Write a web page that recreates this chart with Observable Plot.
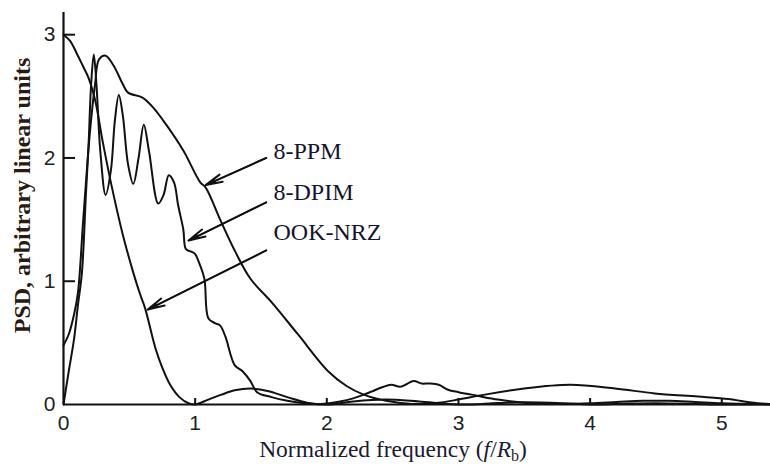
<!DOCTYPE html>
<html>
<head>
<meta charset="utf-8">
<script src="https://cdn.jsdelivr.net/npm/d3@7"></script>
<script src="https://cdn.jsdelivr.net/npm/@observablehq/plot@0.6"></script>
<style>
  html, body { margin: 0; padding: 0; background: #fff; }
  #chart svg { display: block; }
</style>
</head>
<body>
<div id="chart"></div>
<script>
// ---- data ----
const ookFreq = [0, 0.05, 0.1, 0.15, 0.19, 0.24, 0.3, 0.36, 0.45, 0.53, 0.58, 0.62, 0.7, 0.75, 0.81, 0.88, 0.95, 1.0, 1.1, 1.2, 1.3, 1.42, 1.55, 1.7, 1.85, 2.0, 2.2, 2.45, 2.7, 3.0, 3.3, 3.5, 3.8, 4.0, 4.3, 4.5, 4.8, 5.0, 5.37];
const ookPsd  = [3.0, 2.95, 2.85, 2.74, 2.65, 2.47, 2.12, 1.80, 1.38, 1.07, 0.90, 0.78, 0.45, 0.30, 0.16, 0.06, 0.01, 0, 0.04, 0.08, 0.115, 0.13, 0.11, 0.06, 0.015, 0, 0.025, 0.04, 0.025, 0, 0.012, 0.018, 0.01, 0, 0.008, 0.01, 0.005, 0, 0.003];

const ppmFreq = [0, 0.04, 0.08, 0.11, 0.15, 0.2, 0.24, 0.27, 0.32, 0.38, 0.45, 0.49, 0.6, 0.68, 0.78, 0.91, 1.04, 1.08, 1.19, 1.3, 1.42, 1.58, 1.78, 2.01, 2.15, 2.28, 2.45, 2.65, 2.85, 3.0, 3.2, 3.5, 3.85, 4.19, 4.49, 4.82, 5.05, 5.17, 5.3, 5.37];
const ppmPsd  = [0.48, 0.57, 0.73, 0.91, 1.5, 2.2, 2.6, 2.80, 2.83, 2.75, 2.60, 2.53, 2.49, 2.41, 2.27, 2.06, 1.80, 1.76, 1.50, 1.25, 1.02, 0.83, 0.57, 0.27, 0.15, 0.08, 0.03, 0.005, 0.015, 0.04, 0.08, 0.13, 0.16, 0.13, 0.09, 0.065, 0.045, 0.025, 0.008, 0.003];

const dpimFreq = [0, 0.04, 0.08, 0.11, 0.14, 0.17, 0.19, 0.21, 0.23, 0.25, 0.28, 0.32, 0.36, 0.39, 0.42, 0.45, 0.49, 0.53, 0.57, 0.61, 0.65, 0.72, 0.76, 0.8, 0.84, 0.87, 0.91, 0.93, 0.97, 1.0, 1.03, 1.07, 1.1, 1.15, 1.19, 1.23, 1.3, 1.36, 1.42, 1.47, 1.58, 1.7, 1.83, 1.95, 2.1, 2.2, 2.28, 2.34, 2.42, 2.49, 2.56, 2.66, 2.72, 2.78, 2.85, 2.92, 3.0, 3.1, 3.17, 3.3, 3.45, 3.6, 3.8, 4.0, 4.2, 4.4, 4.6, 4.8, 5.0, 5.2, 5.37];
const dpimPsd  = [0, 0.27, 0.53, 0.81, 1.07, 1.7, 2.1, 2.6, 2.84, 2.6, 2.05, 1.70, 1.9, 2.3, 2.51, 2.35, 1.95, 1.79, 2.0, 2.27, 2.05, 1.63, 1.7, 1.86, 1.80, 1.62, 1.42, 1.26, 1.24, 1.22, 1.15, 1.02, 0.70, 0.66, 0.64, 0.55, 0.32, 0.27, 0.19, 0.10, 0.06, 0.03, 0.01, 0.005, 0.025, 0.05, 0.08, 0.105, 0.14, 0.16, 0.145, 0.19, 0.17, 0.17, 0.16, 0.12, 0.10, 0.08, 0.065, 0.04, 0.02, 0.005, 0.005, 0.01, 0.02, 0.03, 0.03, 0.02, 0.01, 0.005, 0];

const xTicks = [0, 1, 2, 3, 4, 5];
const yTicks = [0, 1, 2, 3];

const labelNames = ["8-PPM", "8-DPIM", "OOK-NRZ"];
const labelFreq  = [1.595, 1.595, 1.595];
const labelPsd   = [2.05, 1.72, 1.40];
const arrowFrom  = [[1.54, 2.00], [1.54, 1.64], [1.54, 1.25]];
const arrowTo    = [[1.08, 1.78], [0.95, 1.33], [0.64, 0.77]];

// ---- build tables ----
const series = [
  ...ookFreq.map((f, i) => ({name: "OOK-NRZ", f, p: ookPsd[i]})),
  ...ppmFreq.map((f, i) => ({name: "8-PPM", f, p: ppmPsd[i]})),
  ...dpimFreq.map((f, i) => ({name: "8-DPIM", f, p: dpimPsd[i]}))
];
const labels = labelNames.map((t, i) => ({t, f: labelFreq[i], p: labelPsd[i]}));
const arrows = arrowFrom.map((a, i) => ({x1: a[0], y1: a[1], x2: arrowTo[i][0], y2: arrowTo[i][1]}));

const W = 770, H = 468, mL = 63, mR = 0, mT = 12, mB = 64;
const sansFont = "'Liberation Sans', Arial, sans-serif";
const serifFont = "'Liberation Serif', 'Times New Roman', serif";

const chart = Plot.plot({
  width: W, height: H,
  marginLeft: mL, marginRight: mR, marginTop: mT, marginBottom: mB,
  style: {background: "#fff", color: "#111"},
  x: {domain: [0, 5.37]},
  y: {domain: [0, 3.18]},
  marks: [
    Plot.axisX(xTicks, {tickSize: 0, tickPadding: 11, tickFormat: d3.format("d"), fontSize: 21, fontFamily: sansFont, fill: "#222", label: null}),
    Plot.axisY(yTicks, {tickSize: 0, tickPadding: 8, tickFormat: d3.format("d"), fontSize: 21, fontFamily: sansFont, fill: "#222", label: null}),
    Plot.tickY([1, 2, 3], {y: d => d, insetRight: (W - mL - mR) - 12, stroke: "#111", strokeWidth: 2}),
    Plot.tickX([1, 2, 3, 4, 5], {x: d => d, insetTop: (H - mT - mB) - 6, stroke: "#111", strokeWidth: 2}),
    Plot.ruleX([0], {stroke: "#111", strokeWidth: 2.2}),
    Plot.ruleY([0], {stroke: "#111", strokeWidth: 2.2}),
    Plot.line(series, {x: "f", y: "p", z: "name", stroke: "#111", strokeWidth: 2, curve: "catmull-rom"}),
    Plot.arrow(arrows, {x1: "x1", y1: "y1", x2: "x2", y2: "y2", stroke: "#111", strokeWidth: 2, headLength: 13, headAngle: 26}),
    Plot.arrow(arrows, {x1: "x1", y1: "y1", x2: "x2", y2: "y2", stroke: "#111", strokeWidth: 1.5, headLength: 10, headAngle: 14}),
    Plot.text(labels, {x: "f", y: "p", text: "t", textAnchor: "start", lineAnchor: "middle", fontSize: 24, fontFamily: serifFont, fill: "#14142e"}),
    Plot.text(["PSD, arbitrary linear units"], {frameAnchor: "left", textAnchor: "middle", lineAnchor: "middle", dx: -41, dy: -13, rotate: -90, fontSize: 24, fontWeight: "bold", fontFamily: serifFont, fill: "#2a1a10"})
  ]
});

document.getElementById("chart").appendChild(chart);

// x-axis title with italic variables and a subscript
const svg = d3.select(chart);
const xt = svg.append("text")
  .attr("x", 393).attr("y", 457)
  .attr("text-anchor", "middle")
  .attr("font-family", serifFont)
  .attr("font-size", 23.5)
  .attr("fill", "#1a1a30");
xt.append("tspan").text("Normalized frequency (");
xt.append("tspan").attr("font-style", "italic").text("f");
xt.append("tspan").text("/");
xt.append("tspan").attr("font-style", "italic").text("R");
xt.append("tspan").attr("font-size", 16).attr("dy", 4).text("b");
xt.append("tspan").attr("dy", -4).text(")");
</script>
</body>
</html>
